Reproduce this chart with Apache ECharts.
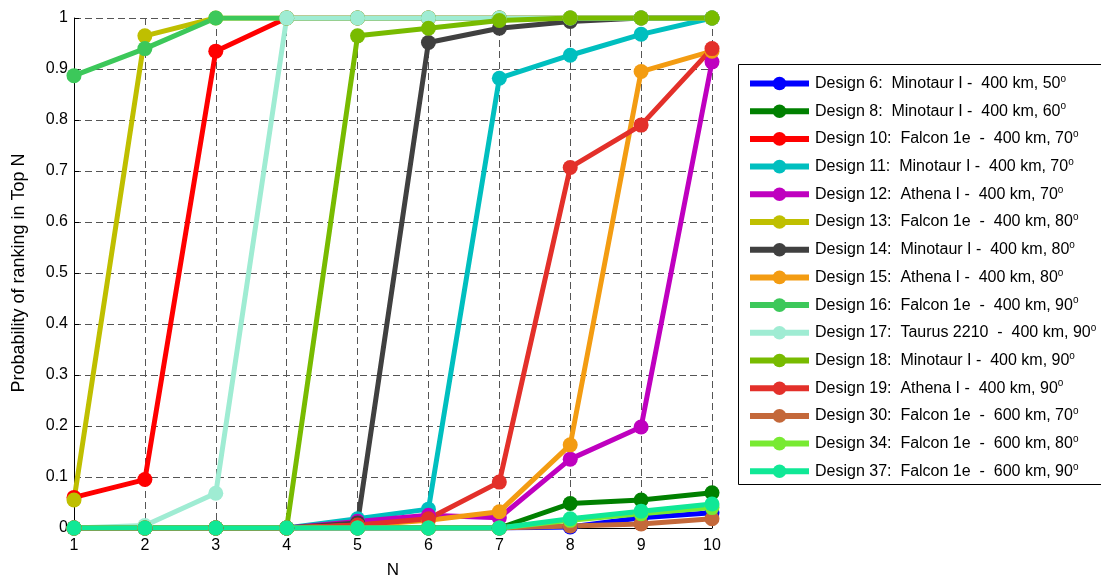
<!DOCTYPE html>
<html>
<head>
<meta charset="utf-8">
<script src="https://cdn.jsdelivr.net/npm/echarts@6/dist/echarts.min.js"></script>
<style>html,body{margin:0;padding:0;background:#fff}#c{width:1101px;height:581px}</style>
</head>
<body>
<div id="c"></div>
<script>
const N = [1, 2, 3, 4, 5, 6, 7, 8, 9, 10];
const yTicks = ['0', '0.1', '0.2', '0.3', '0.4', '0.5', '0.6', '0.7', '0.8', '0.9', '1'];
const names = [
  'Design 6:  Minotaur I -  400 km, 50',
  'Design 8:  Minotaur I -  400 km, 60',
  'Design 10:  Falcon 1e  -  400 km, 70',
  'Design 11:  Minotaur I -  400 km, 70',
  'Design 12:  Athena I -  400 km, 70',
  'Design 13:  Falcon 1e  -  400 km, 80',
  'Design 14:  Minotaur I -  400 km, 80',
  'Design 15:  Athena I -  400 km, 80',
  'Design 16:  Falcon 1e  -  400 km, 90',
  'Design 17:  Taurus 2210  -  400 km, 90',
  'Design 18:  Minotaur I -  400 km, 90',
  'Design 19:  Athena I -  400 km, 90',
  'Design 30:  Falcon 1e  -  600 km, 70',
  'Design 34:  Falcon 1e  -  600 km, 80',
  'Design 37:  Falcon 1e  -  600 km, 90'
];
const colors = ['#0000ff','#008000','#ff0000','#00bfbf','#bf00bf','#bfbf00','#404040','#f39c12',
                '#3cc85a','#9fecd3','#78bb00','#e3302a','#c4683a','#78ea32','#10e896'];
const d6  = [0, 0, 0, 0, 0, 0, 0, 0.002, 0.02, 0.03];
const d8  = [0, 0, 0, 0, 0, 0, 0, 0.048, 0.055, 0.069];
const d10 = [0.06, 0.095, 0.935, 1, 1, 1, 1, 1, 1, 1];
const d11 = [0, 0, 0, 0, 0.018, 0.037, 0.882, 0.927, 0.968, 1];
const d12 = [0, 0, 0, 0, 0.013, 0.025, 0.02, 0.135, 0.198, 0.914];
const d13 = [0.055, 0.965, 1, 1, 1, 1, 1, 1, 1, 1];
const d14 = [0, 0, 0, 0, 0.01, 0.952, 0.98, 0.993, 1, 1];
const d15 = [0, 0, 0, 0, 0.005, 0.015, 0.032, 0.163, 0.895, 0.935];
const d16 = [0.887, 0.94, 1, 1, 1, 1, 1, 1, 1, 1];
const d17 = [0, 0.005, 0.068, 1, 1, 1, 1, 1, 1, 1];
const d18 = [0, 0, 0, 0, 0.965, 0.98, 0.995, 1, 1, 1];
const d19 = [0, 0, 0, 0, 0.006, 0.018, 0.09, 0.707, 0.79, 0.94];
const d30 = [0, 0, 0, 0, 0, 0, 0, 0.004, 0.008, 0.018];
const d34 = [0, 0, 0, 0, 0, 0, 0, 0.015, 0.028, 0.04];
const d37 = [0, 0, 0, 0, 0, 0, 0, 0.018, 0.033, 0.047];
const allData = [d6, d8, d10, d11, d12, d13, d14, d15, d16, d17, d18, d19, d30, d34, d37];

const FONT = 'Liberation Sans, Arial, Helvetica, sans-serif';
const chart = echarts.init(document.getElementById('c'), null, {renderer: 'canvas'});
const series = allData.map((d, i) => ({
  name: names[i],
  type: 'line',
  data: d.map((v, j) => [N[j], v]),
  symbol: 'circle',
  symbolSize: 15,
  showSymbol: true,
  animation: false,
  lineStyle: {width: 5, color: colors[i]},
  itemStyle: {color: colors[i]},
  z: 2
}));

chart.setOption({
  animation: false,
  backgroundColor: '#fff',
  grid: {left: 74, right: 389, top: 18, bottom: 53, containLabel: false, outerBoundsMode: 'none'},
  xAxis: {
    type: 'value', min: 1, max: 10, interval: 1,
    name: 'N', nameLocation: 'middle', nameGap: 34,
    nameTextStyle: {fontFamily: FONT, fontSize: 17, color: '#000'},
    axisLine: {show: true, lineStyle: {color: '#000', width: 1}},
    axisTick: {show: true, inside: true, length: 5, lineStyle: {color: '#000'}},
    axisLabel: {fontFamily: FONT, fontSize: 16, color: '#000', margin: 10},
    splitLine: {show: true, lineStyle: {color: '#555', type: [7, 4], width: 1}}
  },
  yAxis: {
    type: 'value', min: 0, max: 1, interval: 0.1,
    name: 'Probability of ranking in Top N', nameLocation: 'middle', nameGap: 46,
    nameTextStyle: {fontFamily: FONT, fontSize: 18, color: '#000'},
    axisLine: {show: true, lineStyle: {color: '#000', width: 1}},
    axisTick: {show: true, inside: true, length: 5, lineStyle: {color: '#000'}},
    axisLabel: {fontFamily: FONT, fontSize: 16, color: '#000', margin: 6,
      formatter: (v) => yTicks[Math.round(v * 10)]},
    splitLine: {show: true, lineStyle: {color: '#555', type: [7, 4], width: 1}}
  },
  legend: {
    orient: 'vertical', left: 747, top: 74, padding: 0,
    itemWidth: 59, itemHeight: 17, itemGap: 10.2,
    data: names,
    formatter: (n) => n + '{s|o}',
    lineStyle: {width: 6},
    textStyle: {fontFamily: FONT, fontSize: 16, color: '#000', padding: [0, 0, 0, 1],
      rich: {s: {fontFamily: FONT, fontSize: 10, color: '#000', padding: [0, 0, 9, 0]}}},
    itemStyle: {borderWidth: 0}
  },
  graphic: [{
    type: 'rect', left: 738, top: 64, z: 0, silent: true,
    shape: {width: 400, height: 420},
    style: {fill: '#fff', stroke: '#000', lineWidth: 1}
  }],
  series: series
});
</script>
</body>
</html>
